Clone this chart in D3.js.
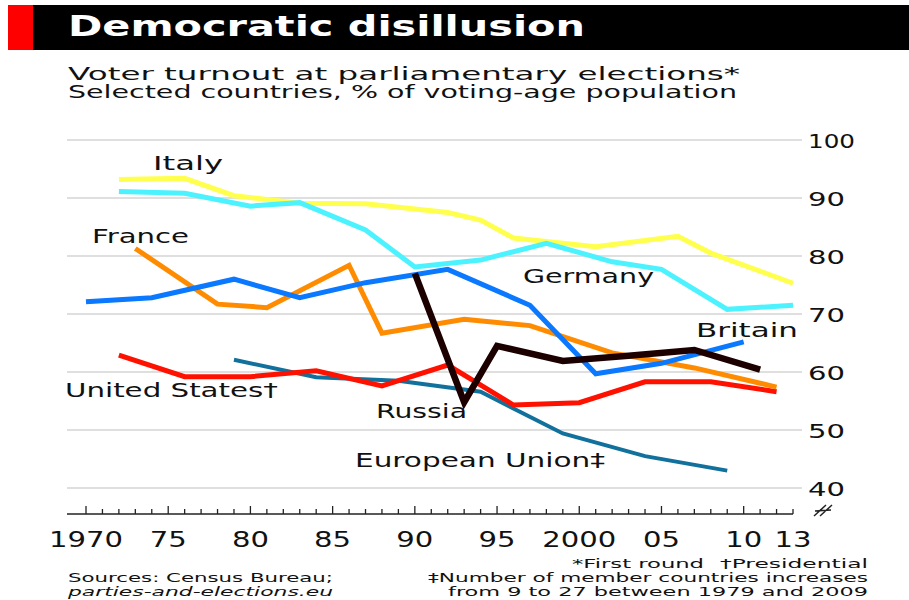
<!DOCTYPE html>
<html><head><meta charset="utf-8">
<script src="https://cdn.jsdelivr.net/npm/d3@7/dist/d3.min.js"></script>
<style>
html,body{margin:0;padding:0;background:#fff;}
svg{display:block;font-family:"DejaVu Sans",sans-serif;}
</style></head>
<body>
<script>
// ---- data ----
const italyYears   = [1972,1976,1979,1983,1987,1992,1994,1996,2001,2006,2008,2013];
const italyValues  = [93.2,93.4,90.4,89.1,89.0,87.5,86.2,83.1,81.6,83.4,80.5,75.3];
const germanyYears  = [1972,1976,1980,1983,1987,1990,1994,1998,2002,2005,2009,2013];
const germanyValues = [91.1,90.8,88.6,89.2,84.5,78.1,79.3,82.2,79.0,77.7,70.8,71.5];
const franceYears  = [1973,1978,1981,1986,1988,1993,1997,2002,2007,2012];
const franceValues = [81.3,71.7,71.1,78.4,66.7,69.1,68.0,63.3,60.7,57.4];
const britainYears  = [1970,1974,1979,1983,1987,1992,1997,2001,2005,2010];
const britainValues = [72.1,72.8,76.0,72.8,75.4,77.7,71.5,59.7,61.5,65.2];
const usYears  = [1972,1976,1980,1984,1988,1992,1996,2000,2004,2008,2012];
const usValues = [62.9,59.2,59.2,60.2,57.6,61.2,54.3,54.7,58.3,58.3,56.6];
const euYears  = [1979,1984,1989,1994,1999,2004,2009];
const euValues = [62.1,59.1,58.5,56.6,49.4,45.5,43.0];
const russiaYears  = [1990,1993,1995,1999,2003,2007,2011];
const russiaValues = [77.0,54.8,64.5,61.9,62.8,63.8,60.4];

const yTicks = [40,50,60,70,80,90,100];
const xLabelYears = [1970,1975,1980,1985,1990,1995,2000,2005,2010,2013];
const xLabels = ["1970","75","80","85","90","95","2000","05","10","13"];

const title = "Democratic disillusion";
const subtitle1 = "Voter turnout at parliamentary elections*";
const subtitle2 = "Selected countries, % of voting-age population";

// ---- layout ----
const W = 909, H = 600;
const svg = d3.select("body").append("svg").attr("width", W).attr("height", H);

const x = d3.scaleLinear().domain([1970, 2013]).range([86, 793]);
const y = d3.scaleLinear().domain([40, 100]).range([488, 140]);

// header
svg.append("rect").attr("x", 8).attr("y", 5).attr("width", W - 8).attr("height", 45).attr("fill", "#000");
svg.append("rect").attr("x", 8).attr("y", 5).attr("width", 25).attr("height", 45).attr("fill", "#ff0000");
function txt(s, px, py, size, opts = {}) {
  const t = svg.append("text").attr("x", px).attr("y", py).attr("font-size", size)
    .attr("fill", opts.fill || "#111").text(s);
  if (opts.weight) t.attr("font-weight", opts.weight);
  if (opts.style) t.attr("font-style", opts.style);
  if (opts.anchor) t.attr("text-anchor", opts.anchor);
  if (opts.len) t.attr("textLength", opts.len).attr("lengthAdjust", "spacingAndGlyphs");
  return t;
}
txt(title, 68, 36, 28, {fill: "#fff", weight: "bold", len: 517});
txt(subtitle1, 68, 80, 18, {len: 672});
txt(subtitle2, 68, 98, 17, {len: 669});

// gridlines
svg.append("g").selectAll("line").data(yTicks).join("line")
  .attr("x1", 67).attr("x2", 802)
  .attr("y1", d => y(d)).attr("y2", d => y(d))
  .attr("stroke", "#d4d4d4").attr("stroke-width", 1.5);

// y labels
svg.append("g").selectAll("text").data(yTicks).join("text")
  .attr("x", 808).attr("y", d => y(d) + 8)
  .attr("font-size", 20).attr("fill", "#111")
  .attr("textLength", d => d === 100 ? 47 : 37).attr("lengthAdjust", "spacingAndGlyphs")
  .text(d => d);

// x axis
const axisY = 514;
svg.append("line").attr("x1", 67).attr("x2", 793).attr("y1", axisY).attr("y2", axisY)
  .attr("stroke", "#222").attr("stroke-width", 1.5);
svg.append("g").selectAll("line").data(d3.range(1970, 2014)).join("line")
  .attr("x1", d => x(d)).attr("x2", d => x(d))
  .attr("y1", axisY).attr("y2", d => axisY - (d % 5 === 0 ? 8 : 5))
  .attr("stroke", "#222").attr("stroke-width", 1.3);
svg.append("g").selectAll("text").data(xLabelYears).join("text")
  .attr("x", d => x(d)).attr("y", 547).attr("text-anchor", "middle")
  .attr("font-size", 22).attr("fill", "#111")
  .attr("textLength", (d, i) => xLabels[i].length === 4 ? 74 : 37).attr("lengthAdjust", "spacingAndGlyphs")
  .text((d, i) => xLabels[i]);
// break mark
svg.append("path").attr("d", "M814,516 L826,505 M820,516 L832,505 M815,511 L831,510")
  .attr("stroke", "#222").attr("stroke-width", 1.5).attr("fill", "none");

// lines
const line = d3.line().x(d => x(d[0])).y(d => y(d[1]));
function series(years, vals, color, width) {
  svg.append("path").datum(years.map((yy, i) => [yy, vals[i]]))
    .attr("d", line).attr("fill", "none").attr("stroke", color)
    .attr("stroke-width", width).attr("stroke-linejoin", "miter").attr("stroke-linecap", "butt");
}
series(euYears, euValues, "#12709c", 4);
series(usYears, usValues, "#ff1100", 5);
series(italyYears, italyValues, "#ffff4d", 5);
series(germanyYears, germanyValues, "#4df2ff", 5);
series(franceYears, franceValues, "#ff8c00", 5);
series(britainYears, britainValues, "#0a78ff", 5);
series(russiaYears, russiaValues, "#1c0000", 6.5);

// series labels
txt("Italy", 153, 170, 19, {len: 70});
txt("France", 92, 243, 19, {len: 97});
txt("Germany", 523, 283, 19, {len: 131});
txt("Britain", 696, 337, 19, {len: 102});
txt("United States\u2020", 65, 397, 19, {len: 213});
txt("Russia", 376, 418, 19, {len: 91});
txt("European Union\u2021", 355, 467, 19, {len: 250});

// footer
txt("Sources: Census Bureau;", 68, 582, 13, {len: 265});
txt("parties-and-elections.eu", 68, 596, 13, {style: "italic", len: 265});
txt("*First round", 704, 568, 13, {anchor: "end", len: 132});
txt("\u2020Presidential", 868, 568, 13, {anchor: "end", len: 148});
txt("\u2021Number of member countries increases", 868, 582, 13, {anchor: "end", len: 440});
txt("from 9 to 27 between 1979 and 2009", 868, 596, 13, {anchor: "end", len: 420});
</script>
</body></html>
